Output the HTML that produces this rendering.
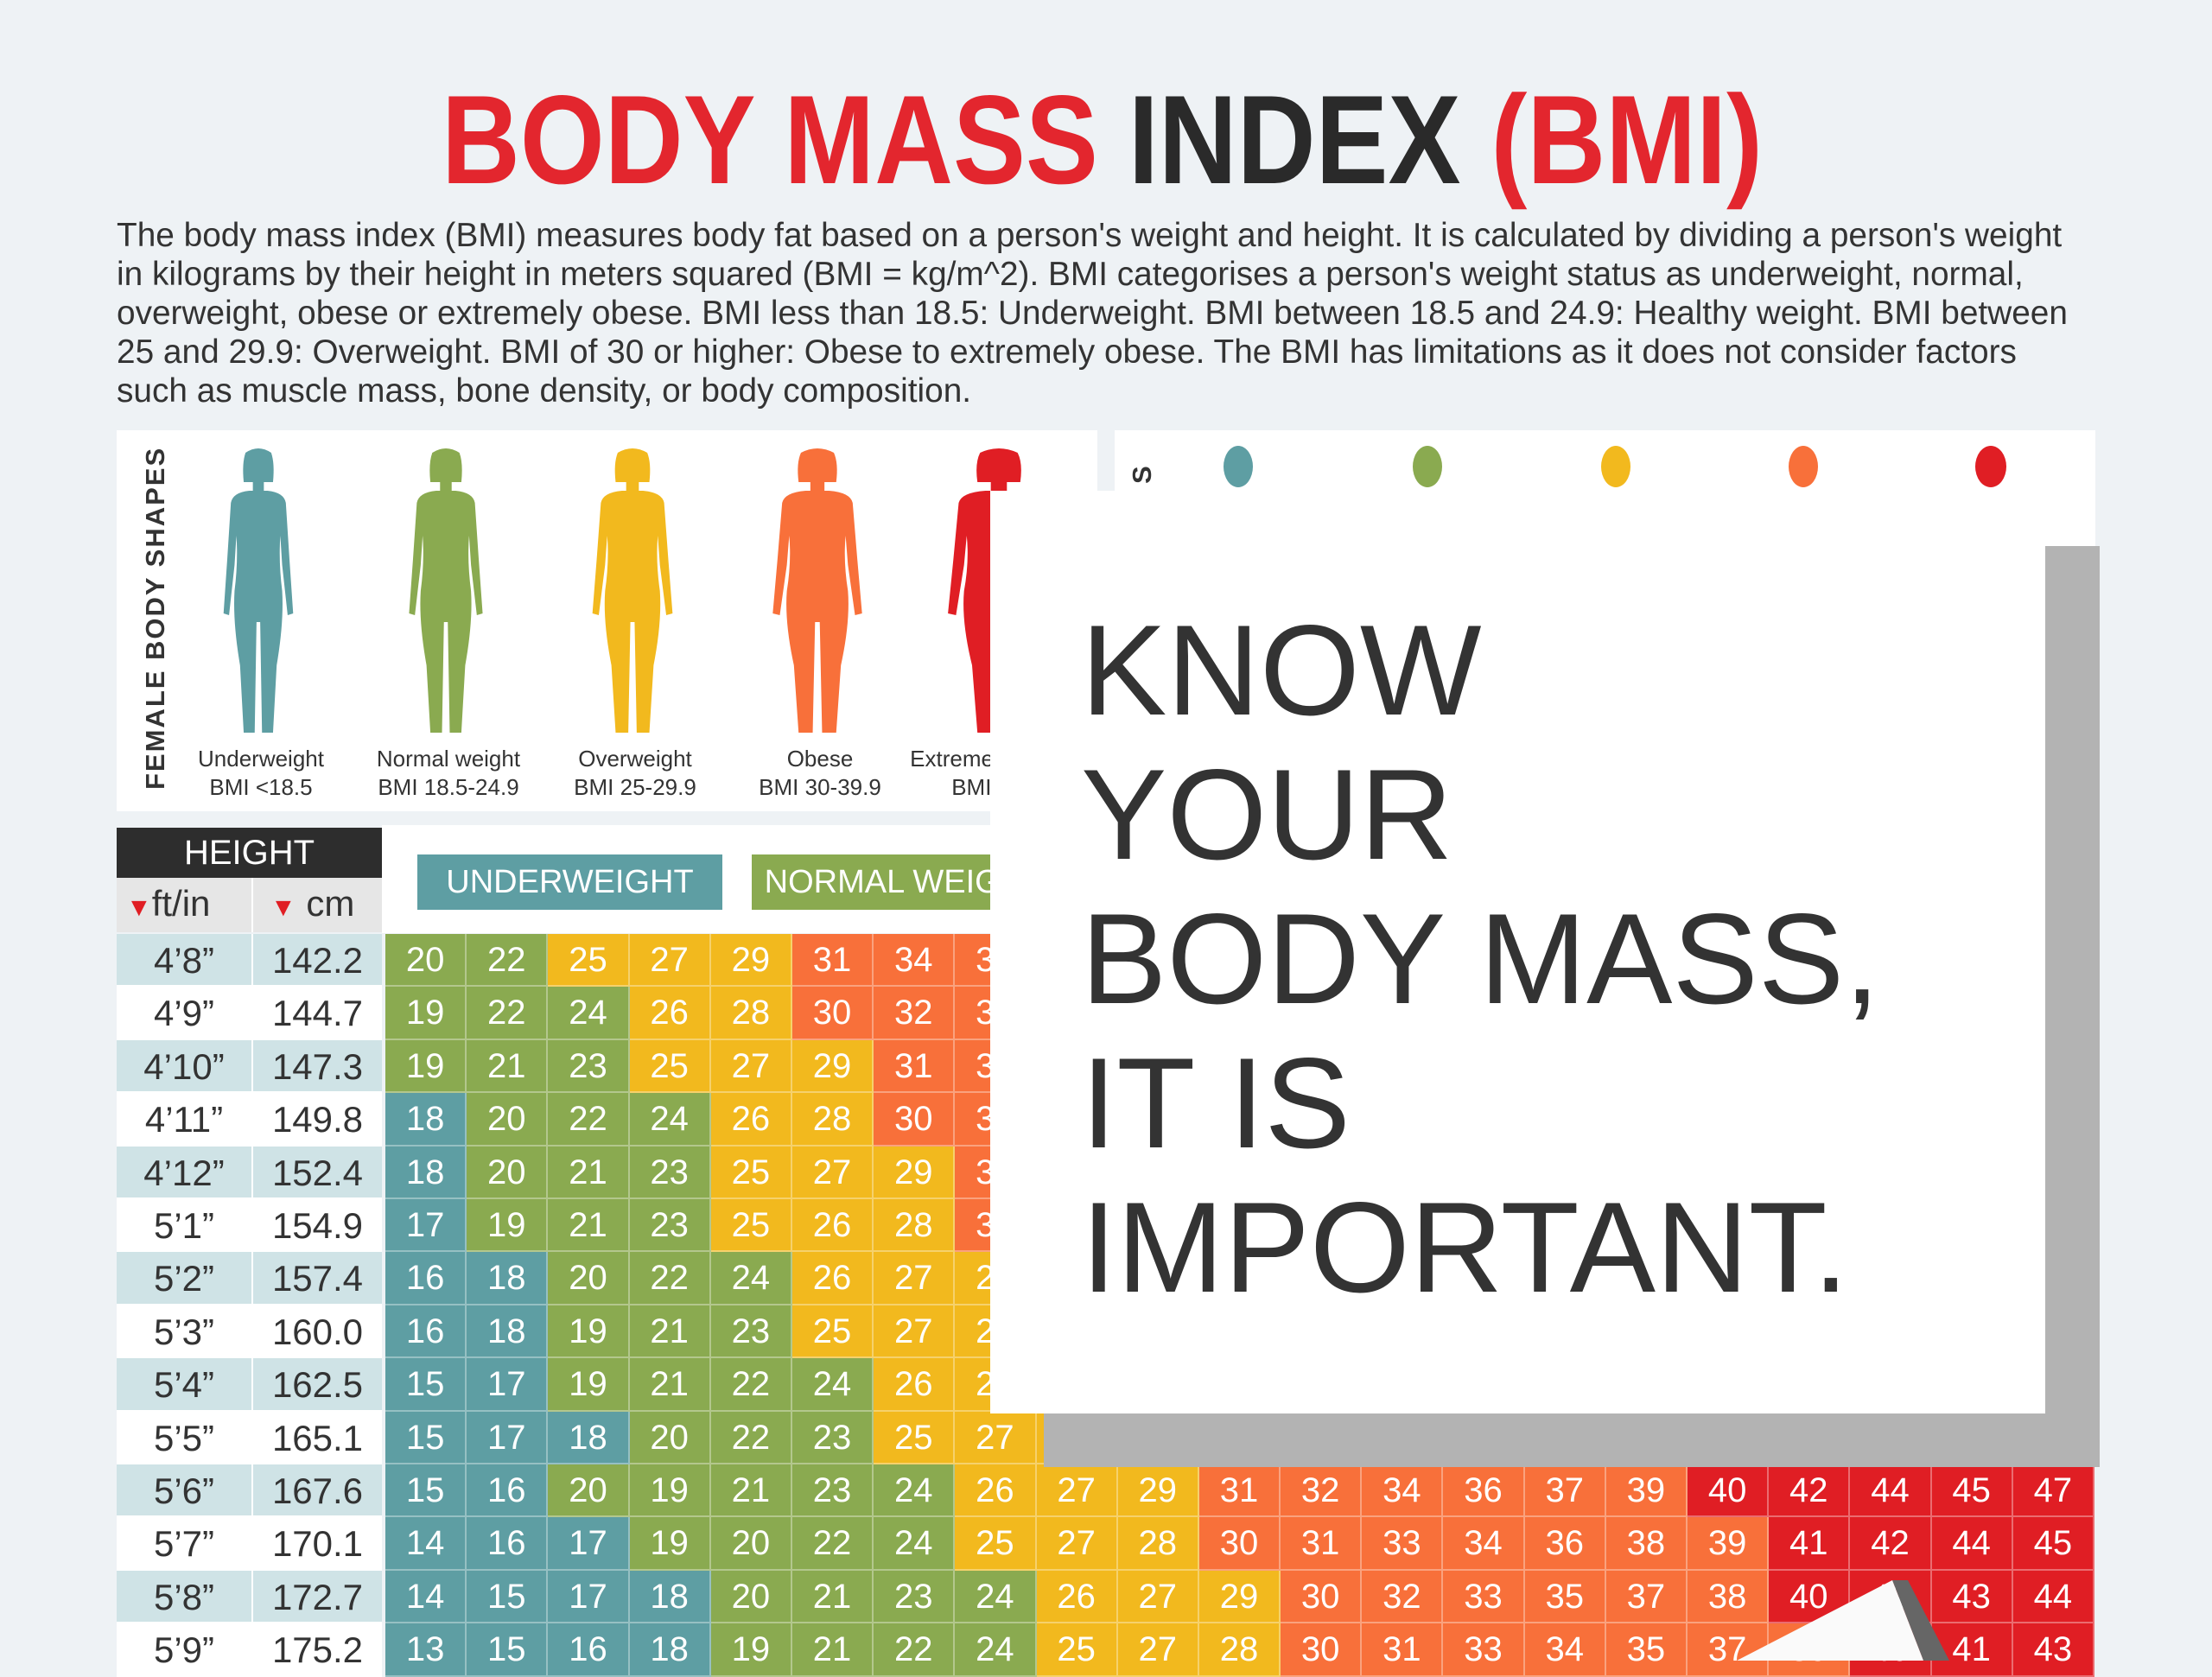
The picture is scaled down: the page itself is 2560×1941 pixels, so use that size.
<!DOCTYPE html>
<html><head><meta charset="utf-8"><style>
*{margin:0;padding:0;box-sizing:border-box}
body{width:2560px;height:1922px;background:#eef2f5;position:relative;overflow:hidden;font-family:"Liberation Sans",sans-serif}
.abs{position:absolute}
#title{left:511px;top:92px;width:1764px;font-weight:bold;font-size:146px;line-height:140px;white-space:nowrap;transform-origin:0 0;transform:scaleX(0.862);color:#e3262e}
#title b{color:#2a2a2a}
.para{left:135px;font-size:38.8px;color:#333;white-space:nowrap;line-height:45px}
.panel{background:#fff}
.lab{position:absolute;text-align:center;font-size:26px;line-height:33px;color:#333;width:220px;font-family:"Liberation Sans Narrow","Liberation Sans",sans-serif}
.row{position:absolute;left:135px;height:61.4px;display:flex}
.row .h{width:156px;height:61.4px;font-size:42px;line-height:61px;text-align:center;color:#333;border-bottom:2px solid #fff}
.row .c{width:151px;height:61.4px;font-size:42px;line-height:61px;text-align:center;color:#333;border-bottom:2px solid #fff;border-left:2px solid #fff}
.row .d{display:flex;margin-left:4px}
.row .d span{width:94.2px;height:61.4px;font-size:40px;line-height:61px;text-align:center;color:#fff;border-right:2px solid rgba(255,255,255,.35);border-bottom:2px solid rgba(255,255,255,.35)}
.lb{background:#cfe3e6}.wh{background:#fff}
.b{background:#5e9ea3}.g{background:#8aaa50}.y{background:#f2b91e}.o{background:#f8703a}.r{background:#e01e24}
#know{left:1251px;top:692px;font-size:149px;line-height:167px;color:#333;white-space:nowrap}
</style></head><body>
<div id="title" class="abs">BODY MASS <b>INDEX</b> (BMI)</div>
<div class="abs para" style="top:250px">The body mass index (BMI) measures body fat based on a person's weight and height. It is calculated by dividing a person's weight</div>
<div class="abs para" style="top:295px">in kilograms by their height in meters squared (BMI = kg/m^2). BMI categorises a person's weight status as underweight, normal,</div>
<div class="abs para" style="top:340px">overweight, obese or extremely obese. BMI less than 18.5: Underweight. BMI between 18.5 and 24.9: Healthy weight. BMI between</div>
<div class="abs para" style="top:385px">25 and 29.9: Overweight. BMI of 30 or higher: Obese to extremely obese. The BMI has limitations as it does not consider factors</div>
<div class="abs para" style="top:430px">such as muscle mass, bone density, or body composition.</div>

<div class="abs panel" style="left:135px;top:498px;width:1135px;height:441px"></div>
<div class="abs panel" style="left:1290px;top:498px;width:1135px;height:200px"></div>
<div class="abs" style="left:162px;top:914px;transform-origin:0 0;transform:rotate(-90deg);font-weight:bold;font-size:31px;letter-spacing:2px;color:#333;white-space:nowrap">FEMALE BODY SHAPES</div>
<div class="abs" style="left:1304px;top:560px;transform-origin:0 0;transform:rotate(-90deg);font-weight:bold;font-size:31px;color:#333">S</div>

<svg class="abs" style="left:0;top:0" width="2560" height="1922">
<defs>
<g id="fig">
<path d="M36,6 Q50,-4 64,6 Q68,18 66,40 L34,40 Q32,18 36,6Z"/>
<rect x="44" y="36" width="12" height="16"/>
<path d="M40,50 L60,50 Q78,52 80,64 L84,130 L88,192 L82,194 L76,136 L74,102 Q72,132 76,166 Q78,202 70,252 L66,330 L54,330 L52,202 L48,202 L46,330 L34,330 L30,252 Q22,202 24,166 Q28,132 26,102 L24,136 L18,194 L12,192 L16,130 L20,64 Q22,52 40,50Z"/>
</g>
</defs>
<g transform="translate(249,518)" fill="#5e9ea3"><use href="#fig" transform="translate(50,0) scale(1.06,1) translate(-50,0)"/></g>
<g transform="translate(466,518)" fill="#8aaa50"><use href="#fig" transform="translate(50,0) scale(1.12,1) translate(-50,0)"/></g>
<g transform="translate(682,518)" fill="#f2b91e"><use href="#fig" transform="translate(50,0) scale(1.22,1) translate(-50,0)"/></g>
<g transform="translate(896,518)" fill="#f8703a"><use href="#fig" transform="translate(50,0) scale(1.36,1) translate(-50,0)"/></g>
<g transform="translate(1106,518)" fill="#e01e24"><use href="#fig" transform="translate(50,0) scale(1.55,1) translate(-50,0)"/></g>
<g fill="#5e9ea3"><ellipse cx="1433" cy="540" rx="17" ry="24"/></g>
<g fill="#8aaa50"><ellipse cx="1652" cy="540" rx="17" ry="24"/></g>
<g fill="#f2b91e"><ellipse cx="1870" cy="540" rx="17" ry="24"/></g>
<g fill="#f8703a"><ellipse cx="2087" cy="540" rx="17" ry="24"/></g>
<g fill="#e01e24"><ellipse cx="2304" cy="540" rx="18" ry="24"/></g>
</svg>
<div class="lab" style="left:192px;top:862px">Underweight<br>BMI &lt;18.5</div>
<div class="lab" style="left:409px;top:862px">Normal weight<br>BMI 18.5-24.9</div>
<div class="lab" style="left:625px;top:862px">Overweight<br>BMI 25-29.9</div>
<div class="lab" style="left:839px;top:862px">Obese<br>BMI 30-39.9</div>
<div class="lab" style="left:1040px;top:862px">Extremely obese<br>BMI 40+</div>

<div class="abs" style="left:442px;top:955px;width:1983px;height:125px;background:#fff"></div>
<div class="abs" style="left:135px;top:958px;width:307px;height:58px;background:#2d2d2d;color:#fff;font-size:40px;line-height:58px;text-align:center">HEIGHT</div>
<div class="abs" style="left:135px;top:1016px;width:307px;height:63px;background:#e6e6e6"></div>
<div class="abs" style="left:146px;top:1014px;font-size:42px;line-height:63px;color:#333"><span style="color:#e01e24;font-size:30px">▼</span>ft/in</div>
<div class="abs" style="left:313px;top:1014px;font-size:42px;line-height:63px;color:#333"><span style="color:#e01e24;font-size:30px">▼</span> cm</div>
<div class="abs" style="left:291px;top:1016px;width:2px;height:63px;background:#fff"></div>
<div class="abs" style="left:483px;top:989px;width:353px;height:64px;background:#5e9ea3;color:#fff;font-size:38px;line-height:64px;text-align:center">UNDERWEIGHT</div>
<div class="abs" style="left:870px;top:989px;width:353px;height:64px;background:#8aaa50;color:#fff;font-size:38px;line-height:64px;text-align:center">NORMAL WEIGHT</div>

<div class="row" style="top:1081px"><div class="h lb">4’8”</div><div class="c lb">142.2</div><div class="d"><span class="g">20</span><span class="g">22</span><span class="y">25</span><span class="y">27</span><span class="y">29</span><span class="o">31</span><span class="o">34</span><span class="o">36</span><span class="o">38</span><span class="r">40</span><span class="r">43</span><span class="r">45</span><span class="r">47</span><span class="r">49</span><span class="r">52</span><span class="r">54</span><span class="r">56</span><span class="r">58</span><span class="r">61</span><span class="r">63</span><span class="r">65</span></div></div>
<div class="row" style="top:1142.4px"><div class="h wh">4’9”</div><div class="c wh">144.7</div><div class="d"><span class="g">19</span><span class="g">22</span><span class="g">24</span><span class="y">26</span><span class="y">28</span><span class="o">30</span><span class="o">32</span><span class="o">34</span><span class="o">37</span><span class="o">39</span><span class="r">41</span><span class="r">43</span><span class="r">45</span><span class="r">47</span><span class="r">50</span><span class="r">52</span><span class="r">54</span><span class="r">56</span><span class="r">58</span><span class="r">60</span><span class="r">63</span></div></div>
<div class="row" style="top:1203.8px"><div class="h lb">4’10”</div><div class="c lb">147.3</div><div class="d"><span class="g">19</span><span class="g">21</span><span class="g">23</span><span class="y">25</span><span class="y">27</span><span class="y">29</span><span class="o">31</span><span class="o">33</span><span class="o">35</span><span class="o">37</span><span class="o">39</span><span class="r">42</span><span class="r">44</span><span class="r">46</span><span class="r">48</span><span class="r">50</span><span class="r">52</span><span class="r">54</span><span class="r">56</span><span class="r">58</span><span class="r">60</span></div></div>
<div class="row" style="top:1265.2px"><div class="h wh">4’11”</div><div class="c wh">149.8</div><div class="d"><span class="b">18</span><span class="g">20</span><span class="g">22</span><span class="g">24</span><span class="y">26</span><span class="y">28</span><span class="o">30</span><span class="o">32</span><span class="o">34</span><span class="o">36</span><span class="o">38</span><span class="r">40</span><span class="r">42</span><span class="r">44</span><span class="r">46</span><span class="r">48</span><span class="r">50</span><span class="r">52</span><span class="r">54</span><span class="r">56</span><span class="r">58</span></div></div>
<div class="row" style="top:1326.6px"><div class="h lb">4’12”</div><div class="c lb">152.4</div><div class="d"><span class="b">18</span><span class="g">20</span><span class="g">21</span><span class="g">23</span><span class="y">25</span><span class="y">27</span><span class="y">29</span><span class="o">31</span><span class="o">33</span><span class="o">35</span><span class="o">37</span><span class="o">39</span><span class="r">41</span><span class="r">43</span><span class="r">44</span><span class="r">46</span><span class="r">48</span><span class="r">50</span><span class="r">52</span><span class="r">54</span><span class="r">56</span></div></div>
<div class="row" style="top:1388px"><div class="h wh">5’1”</div><div class="c wh">154.9</div><div class="d"><span class="b">17</span><span class="g">19</span><span class="g">21</span><span class="g">23</span><span class="y">25</span><span class="y">26</span><span class="y">28</span><span class="o">30</span><span class="o">32</span><span class="o">34</span><span class="o">36</span><span class="o">38</span><span class="o">39</span><span class="r">41</span><span class="r">43</span><span class="r">45</span><span class="r">47</span><span class="r">49</span><span class="r">51</span><span class="r">53</span><span class="r">55</span></div></div>
<div class="row" style="top:1449.4px"><div class="h lb">5’2”</div><div class="c lb">157.4</div><div class="d"><span class="b">16</span><span class="b">18</span><span class="g">20</span><span class="g">22</span><span class="g">24</span><span class="y">26</span><span class="y">27</span><span class="y">29</span><span class="o">31</span><span class="o">33</span><span class="o">35</span><span class="o">37</span><span class="o">38</span><span class="r">40</span><span class="r">42</span><span class="r">44</span><span class="r">46</span><span class="r">48</span><span class="r">49</span><span class="r">51</span><span class="r">53</span></div></div>
<div class="row" style="top:1510.8px"><div class="h wh">5’3”</div><div class="c wh">160.0</div><div class="d"><span class="b">16</span><span class="b">18</span><span class="g">19</span><span class="g">21</span><span class="g">23</span><span class="y">25</span><span class="y">27</span><span class="y">28</span><span class="o">30</span><span class="o">32</span><span class="o">34</span><span class="o">35</span><span class="o">37</span><span class="o">39</span><span class="r">41</span><span class="r">42</span><span class="r">44</span><span class="r">46</span><span class="r">48</span><span class="r">50</span><span class="r">51</span></div></div>
<div class="row" style="top:1572.2px"><div class="h lb">5’4”</div><div class="c lb">162.5</div><div class="d"><span class="b">15</span><span class="b">17</span><span class="g">19</span><span class="g">21</span><span class="g">22</span><span class="g">24</span><span class="y">26</span><span class="y">27</span><span class="y">29</span><span class="o">31</span><span class="o">33</span><span class="o">34</span><span class="o">36</span><span class="o">38</span><span class="o">39</span><span class="r">41</span><span class="r">43</span><span class="r">45</span><span class="r">46</span><span class="r">48</span><span class="r">50</span></div></div>
<div class="row" style="top:1633.6px"><div class="h wh">5’5”</div><div class="c wh">165.1</div><div class="d"><span class="b">15</span><span class="b">17</span><span class="b">18</span><span class="g">20</span><span class="g">22</span><span class="g">23</span><span class="y">25</span><span class="y">27</span><span class="y">28</span><span class="o">30</span><span class="o">32</span><span class="o">33</span><span class="o">35</span><span class="o">37</span><span class="o">38</span><span class="r">40</span><span class="r">42</span><span class="r">43</span><span class="r">45</span><span class="r">47</span><span class="r">48</span></div></div>
<div class="row" style="top:1695px"><div class="h lb">5’6”</div><div class="c lb">167.6</div><div class="d"><span class="b">15</span><span class="b">16</span><span class="g">20</span><span class="g">19</span><span class="g">21</span><span class="g">23</span><span class="g">24</span><span class="y">26</span><span class="y">27</span><span class="y">29</span><span class="o">31</span><span class="o">32</span><span class="o">34</span><span class="o">36</span><span class="o">37</span><span class="o">39</span><span class="r">40</span><span class="r">42</span><span class="r">44</span><span class="r">45</span><span class="r">47</span></div></div>
<div class="row" style="top:1756.4px"><div class="h wh">5’7”</div><div class="c wh">170.1</div><div class="d"><span class="b">14</span><span class="b">16</span><span class="b">17</span><span class="g">19</span><span class="g">20</span><span class="g">22</span><span class="g">24</span><span class="y">25</span><span class="y">27</span><span class="y">28</span><span class="o">30</span><span class="o">31</span><span class="o">33</span><span class="o">34</span><span class="o">36</span><span class="o">38</span><span class="o">39</span><span class="r">41</span><span class="r">42</span><span class="r">44</span><span class="r">45</span></div></div>
<div class="row" style="top:1817.8px"><div class="h lb">5’8”</div><div class="c lb">172.7</div><div class="d"><span class="b">14</span><span class="b">15</span><span class="b">17</span><span class="b">18</span><span class="g">20</span><span class="g">21</span><span class="g">23</span><span class="g">24</span><span class="y">26</span><span class="y">27</span><span class="y">29</span><span class="o">30</span><span class="o">32</span><span class="o">33</span><span class="o">35</span><span class="o">37</span><span class="o">38</span><span class="r">40</span><span class="r">41</span><span class="r">43</span><span class="r">44</span></div></div>
<div class="row" style="top:1879.2px"><div class="h wh">5’9”</div><div class="c wh">175.2</div><div class="d"><span class="b">13</span><span class="b">15</span><span class="b">16</span><span class="b">18</span><span class="g">19</span><span class="g">21</span><span class="g">22</span><span class="g">24</span><span class="y">25</span><span class="y">27</span><span class="y">28</span><span class="o">30</span><span class="o">31</span><span class="o">33</span><span class="o">34</span><span class="o">35</span><span class="o">37</span><span class="o">39</span><span class="r">40</span><span class="r">41</span><span class="r">43</span></div></div>

<div class="abs" style="left:1208px;top:632px;width:1222px;height:1066px;background:#b3b3b3"></div>
<div class="abs" style="left:1146px;top:568px;width:1221px;height:1068px;background:#fff"></div>
<div id="know" class="abs">KNOW<br>YOUR<br>BODY MASS,<br>IT IS<br>IMPORTANT.</div>

<svg class="abs" style="left:0;top:0" width="2560" height="1922">
<polygon points="2190,1829 2208,1829 2256,1922 2226,1922" fill="#666"/>
<polygon points="2010,1922 2190,1829 2226,1922" fill="#fafafa"/>
</svg>
</body></html>
